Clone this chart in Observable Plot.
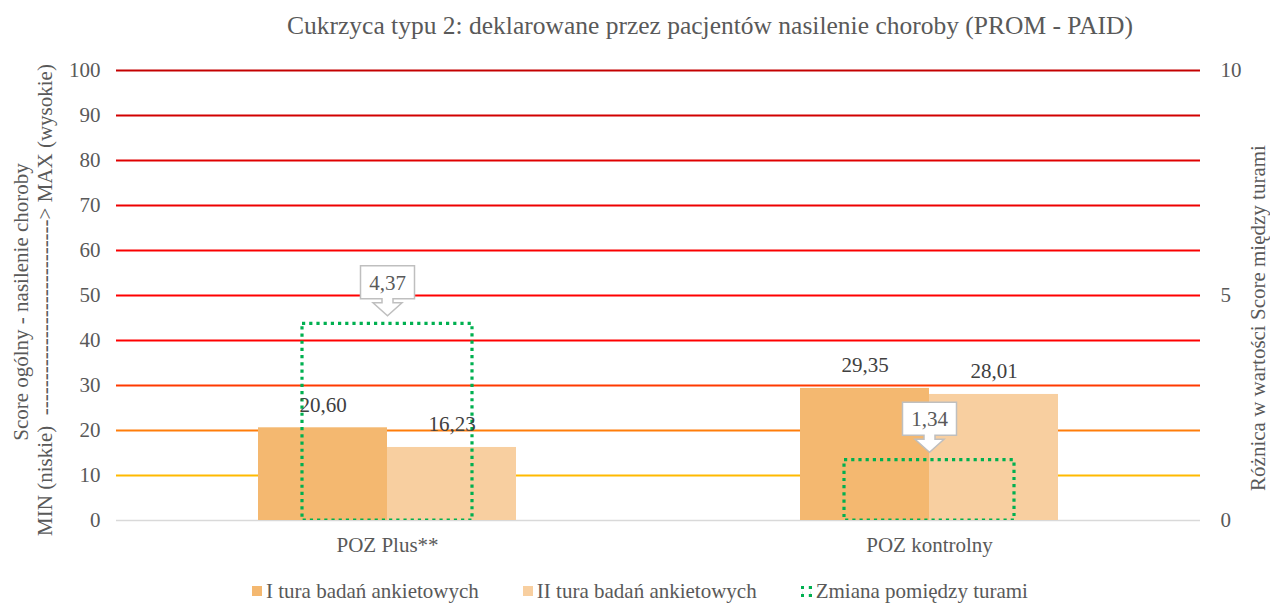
<!DOCTYPE html>
<html><head><meta charset="utf-8">
<script src="https://cdn.jsdelivr.net/npm/d3@7"></script>
<script src="https://cdn.jsdelivr.net/npm/@observablehq/plot@0.6"></script>
<style>
body{margin:0;background:#fff;font-family:"Liberation Serif","Times New Roman",serif;color:#595959;}
#wrap{position:relative;width:1270px;height:603px;overflow:hidden;}
#title{height:50px;line-height:52px;font-size:25.5px;text-align:center;padding-left:150px;box-sizing:border-box;width:1270px;white-space:nowrap;}
#chart{height:520px;}
.ylab{position:absolute;white-space:nowrap;font-size:21px;transform:translate(-50%,-50%) rotate(-90deg);}
#legend{display:flex;justify-content:center;align-items:center;gap:44px;padding-top:9px;padding-left:10px;height:24px;line-height:24px;font-size:21px;}
.item{display:flex;align-items:center;gap:4px;white-space:nowrap;}
.sw{width:10px;height:10px;display:inline-block;box-sizing:border-box;}
</style></head><body>
<div id="wrap">
<div id="title">Cukrzyca typu 2: deklarowane przez pacjentów nasilenie choroby (PROM - PAID)</div>
<div id="chart"></div>
<div id="legend"></div>
<div class="ylab" style="left:21px;top:302px">Score ogólny - nasilenie choroby</div>
<div class="ylab" style="left:45px;top:300px">MIN (niskie)&nbsp; ----------------------------&gt; MAX (wysokie)</div>
<div class="ylab" style="left:1258px;top:318px">Różnica w wartości Score między turami</div>
</div>
<script>
// ---- data ----
const categories = ["POZ Plus**", "POZ kontrolny"];
const seriesNames = ["I tura badań ankietowych", "II tura badań ankietowych", "Zmiana pomiędzy turami"];
const tura1 = [20.60, 29.35];
const tura2 = [16.23, 28.01];
const zmiana = [4.37, 1.34];
const leftTicks = [0, 10, 20, 30, 40, 50, 60, 70, 80, 90, 100];
const rightTicks = [0, 5, 10];

// ---- styles ----
const SCALE = 10; // secondary axis (0–10) mapped onto primary (0–100)
const barColors = ["#F4B870", "#F8CFA0"];
const changeColor = "#00B050";
const gridColors = {10:"#FFBA00",20:"#FF7D0A",30:"#FF3A00",40:"#FF0000",50:"#FF0000",60:"#FA0000",70:"#EE0000",80:"#E00000",90:"#D20000",100:"#C40000"};

const fmt = v => v.toFixed(2).replace(".", ",");

const bars = categories.flatMap((c, i) => [
  {cat: c, series: seriesNames[0], value: tura1[i]},
  {cat: c, series: seriesNames[1], value: tura2[i]}
]);
const changes = categories.map((c, i) => ({cat: c, value: zmiana[i]}));

const callout = {
  draw(ctx) {
    ctx.moveTo(-27, -58);
    ctx.lineTo(27, -58);
    ctx.lineTo(27, -25);
    ctx.lineTo(5.5, -25);
    ctx.lineTo(5.5, -21);
    ctx.lineTo(14.5, -21);
    ctx.lineTo(0, -8);
    ctx.lineTo(-14.5, -21);
    ctx.lineTo(-5.5, -21);
    ctx.lineTo(-5.5, -25);
    ctx.lineTo(-27, -25);
    ctx.closePath();
  }
};

const gridMarks = leftTicks.filter(t => t > 0).map(t =>
  Plot.ruleY([t], {stroke: gridColors[t], strokeWidth: 2.2})
);

const chart = Plot.plot({
  width: 1270,
  height: 520,
  marginLeft: 115,
  marginRight: 70,
  marginTop: 20,
  marginBottom: 50,
  style: {fontFamily: '"Liberation Serif","Times New Roman",serif', fontSize: "21px", color: "#595959", background: "transparent", overflow: "visible"},
  fx: {domain: categories, padding: 0, label: null},
  x: {domain: seriesNames.slice(0, 2), paddingInner: 0, paddingOuter: 1.1, axis: null},
  y: {domain: [0, 100], axis: null},
  color: {domain: seriesNames.slice(0, 2), range: barColors},
  marks: [
    Plot.ruleY([0], {stroke: "#D9D9D9", strokeWidth: 1.5}),
    ...gridMarks,
    Plot.barY(bars, {fx: "cat", x: "series", y: "value", fill: "series"}),
    Plot.barY(changes, {fx: "cat", y: d => d.value * SCALE, fill: "none", stroke: changeColor, strokeWidth: 3.2, strokeDasharray: "3.2,4", insetLeft: 186, insetRight: 186, clip: true}),
    Plot.text(bars, {fx: "cat", x: "series", y: "value", text: d => fmt(d.value), dy: -23, fill: "#404040", fontSize: 21}),
    Plot.dot(changes, {fx: "cat", y: d => d.value * SCALE, symbol: callout, r: 5, fill: "white", stroke: "#BFBFBF", strokeWidth: 1.5}),
    Plot.text(changes, {fx: "cat", y: d => d.value * SCALE, text: d => fmt(d.value), dy: -41, fill: "#595959", fontSize: 21}),
    Plot.axisY({anchor: "left", ticks: leftTicks, tickSize: 0, tickPadding: 16, label: null, fontSize: 21, fill: "#595959"}),
    Plot.axisY({anchor: "right", ticks: rightTicks.map(t => t * SCALE), tickFormat: d => String(d / SCALE), tickSize: 0, tickPadding: 20, label: null, fontSize: 21, fill: "#595959"}),
    Plot.axisFx({anchor: "bottom", tickSize: 0, tickPadding: 17, label: null, fontSize: 21, fill: "#595959"})
  ]
});
document.getElementById("chart").appendChild(chart);

// legend
const legend = document.getElementById("legend");
seriesNames.forEach((name, i) => {
  const item = document.createElement("div");
  item.className = "item";
  const sw = document.createElement("span");
  sw.className = "sw";
  if (i < 2) sw.style.background = barColors[i];
  else { sw.style.border = `3px dotted ${changeColor}`; sw.style.width = "11px"; sw.style.height = "11px"; }
  const label = document.createElement("span");
  label.textContent = name;
  item.appendChild(sw);
  item.appendChild(label);
  legend.appendChild(item);
});
</script>
</body></html>
